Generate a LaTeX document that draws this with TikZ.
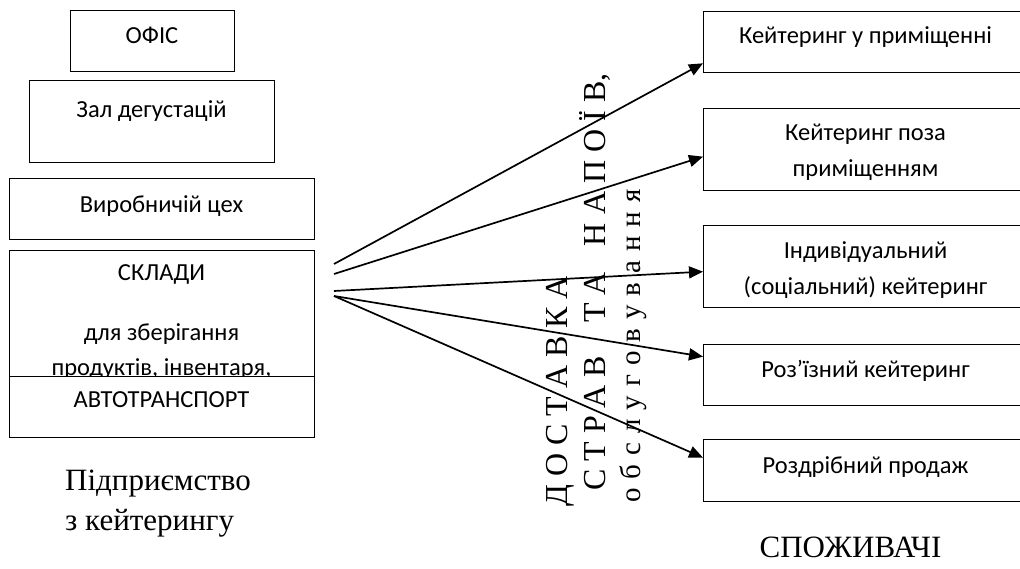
\documentclass[tikz,border=0pt]{standalone}
\usepackage{fontspec}
\setmainfont{Liberation Serif}
\newfontfamily\calfont{Carlito}
\usetikzlibrary{arrows.meta,calc}
\newcommand\vfontbig{\fontsize{32}{38}\selectfont\spaceskip=8pt\relax}
\newcommand\vfontsmall{\fontsize{29}{34}\selectfont\spaceskip=9pt\relax}
\begin{document}
\begin{tikzpicture}[x=1pt,y=-1pt,
  bx/.style={draw, line width=1.3pt, fill=white, inner sep=0pt, anchor=north west},
  bt/.style={font=\calfont\fontsize{24.5}{29}\selectfont, inner sep=0pt, anchor=base},
  arr/.style={line width=1.7pt, -{Triangle[length=14pt,width=12pt]}},
  tm/.style={font=\fontsize{31}{37}\selectfont, inner sep=0pt},
  vt/.style={rotate=90, inner sep=0pt, anchor=base west}]
\useasboundingbox (0,0) rectangle (1020,569);
\clip (0,0) rectangle (1020,569);
\fill[white] (0,0) rectangle (1020,569);

% left boxes
\node[bx, minimum width=164pt, minimum height=61pt] (ofis) at (70,10) {};
\node[bt] (ofist) at (152,44) {ОФІС};
\node[bx, minimum width=245pt, minimum height=82pt] (zal) at (29,80) {};
\node[bt] (zalt) at (151.5,118) {Зал дегустацій};
\node[bx, minimum width=305pt, minimum height=61pt] (vyr) at (9,178) {};
\node[bt] (vyrt) at (161.5,213) {Виробничій цех};
\node[bx, minimum width=305pt, minimum height=126pt] (skl) at (9,250) {};
\node[bt] (sklt1) at (161.5,281) {СКЛАДИ};
\node[bt] (sklt2) at (161.5,341) {для зберігання};
\node[bt] (sklt3) at (161.5,375) {продуктів, інвентаря,};
\node[bx, minimum width=305pt, minimum height=61pt] (avto) at (9,376) {};
\node[bt] (avtot) at (161.5,407) {АВТОТРАНСПОРТ};

\node[tm, anchor=base west] (pidpr1) at (65,490) {Підприємство};
\node[tm, anchor=base west] (pidpr2) at (65,530) {з кейтерингу};

% right boxes
\node[bx, minimum width=325pt, minimum height=61pt] (k1) at (703,11) {};
\node[bt] (k1t) at (865.5,44) {Кейтеринг у приміщенні};
\node[bx, minimum width=325pt, minimum height=82pt] (k2) at (703,108) {};
\node[bt] (k2t1) at (865.5,141) {Кейтеринг поза};
\node[bt] (k2t2) at (865.5,177) {приміщенням};
\node[bx, minimum width=325pt, minimum height=82pt] (k3) at (703,225) {};
\node[bt] (k3t1) at (865.5,259) {Індивідуальний};
\node[bt] (k3t2) at (865.5,295) {(соціальний) кейтеринг};
\node[bx, minimum width=325pt, minimum height=61pt] (k4) at (703,344) {};
\node[bt] (k4t) at (865.5,377) {Роз’їзний кейтеринг};
\node[bx, minimum width=325pt, minimum height=62pt] (k5) at (703,439) {};
\node[bt] (k5t) at (865.5,473) {Роздрібний продаж};

\node[tm, anchor=base] (spoz) at (850.5,557) {СПОЖИВАЧІ};

% vertical text
\node[vt, font=\vfontbig] (v1) at (567,507) {Д О С Т А В К А};
\node[vt, font=\vfontbig] (v2) at (605,491) {С Т Р А В\hspace{33pt}Т А\hspace{26pt}Н А П О Ї В,};
\node[vt, font=\vfontsmall] (v3) at (640,503) {о б с л у г о в у в а н н я};

% arrows
\coordinate (s1) at (334,264);
\coordinate (s2) at (334,274);
\coordinate (s3) at (334,291);
\coordinate (s4) at (334,296);
\draw[arr] (s1) -- ($(k1.south west)+(0,-10)$);
\draw[arr] (s2) -- ($(k2.west)+(0,7)$);
\draw[arr] (s3) -- ($(k3.west)+(0,5)$);
\draw[arr] (s4) -- ($(k4.west)+(0,-18.5)$);
\draw[arr] (s4) -- ($(k5.west)+(0,-13)$);
\end{tikzpicture}
\end{document}
